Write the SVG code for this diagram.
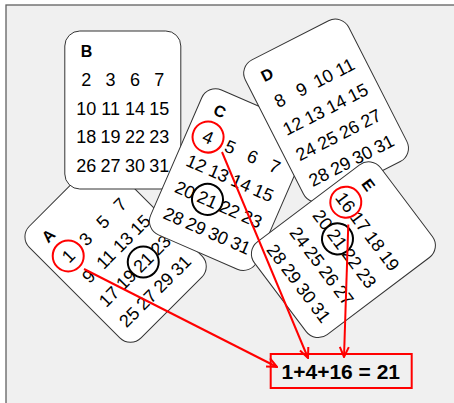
<svg xmlns="http://www.w3.org/2000/svg" width="454" height="403" viewBox="0 0 454 403">
  <style>
    .card { fill: #ffffff; stroke: #333333; stroke-width: 1; }
    .lbl { font-family: "Liberation Sans", Arial, sans-serif; font-weight: bold; font-size: 16px; fill: #000; }
    .num { font-family: "Liberation Sans", Arial, sans-serif; font-size: 18px; fill: #000; text-anchor: middle; }
    .ring { fill: none; stroke: #000; stroke-width: 2; }
    .ring-red { fill: none; stroke: #ff0000; stroke-width: 2; }
    .arrow { fill: none; stroke: #ff0000; stroke-width: 2; }
    .sum { font-family: "Liberation Sans", Arial, sans-serif; font-weight: bold; font-size: 21px; fill: #000; text-anchor: middle; }
  </style>
  <defs>
    <rect id="cardShape" x="-58" y="-79" width="116" height="158" rx="15" ry="15"/>
    <marker id="head" viewBox="0 0 12 12" refX="11" refY="6" markerWidth="12" markerHeight="12" markerUnits="userSpaceOnUse" orient="auto">
      <path d="M1,1.5 L11,6 L1,10.5" fill="none" stroke="#ff0000" stroke-width="2"/>
    </marker>
  </defs>

  <!-- page frame -->
  <rect x="0" y="0" width="454" height="403" fill="#ffffff"/>
  <rect x="6" y="5" width="460" height="410" fill="#f0f0f0" stroke="#606060" stroke-width="1.3"/>

  <!-- card A -->
  <g id="cardA" transform="translate(115.6,251.7) rotate(-45)">
    <use href="#cardShape" class="card"/>
    <text class="lbl" x="-42" y="-53.3">A</text>
    <text class="num" y="-24"><tspan x="-36.5">1</tspan><tspan x="-12.2">3</tspan><tspan x="12.2">5</tspan><tspan x="36.5">7</tspan></text>
    <text class="num" y="4.7"><tspan x="-36.5">9</tspan><tspan x="-12.2">11</tspan><tspan x="12.2">13</tspan><tspan x="36.5">15</tspan></text>
    <text class="num" y="33.4"><tspan x="-36.5">17</tspan><tspan x="-12.2">19</tspan><tspan x="12.2">21</tspan><tspan x="36.5">23</tspan></text>
    <text class="num" y="62.1"><tspan x="-36.5">25</tspan><tspan x="-12.2">27</tspan><tspan x="12.2">29</tspan><tspan x="36.5">31</tspan></text>
    <circle class="ring-red" cx="-36.5" cy="-30.5" r="15.5"/>
    <circle class="ring" cx="12.2" cy="26.9" r="15.5"/>
  </g>

  <!-- card B -->
  <g id="cardB" transform="translate(122.8,110)">
    <use href="#cardShape" class="card"/>
    <text class="lbl" x="-42" y="-53.3">B</text>
    <text class="num" y="-24"><tspan x="-36.5">2</tspan><tspan x="-12.2">3</tspan><tspan x="12.2">6</tspan><tspan x="36.5">7</tspan></text>
    <text class="num" y="4.7"><tspan x="-36.5">10</tspan><tspan x="-12.2">11</tspan><tspan x="12.2">14</tspan><tspan x="36.5">15</tspan></text>
    <text class="num" y="33.4"><tspan x="-36.5">18</tspan><tspan x="-12.2">19</tspan><tspan x="12.2">22</tspan><tspan x="36.5">23</tspan></text>
    <text class="num" y="62.1"><tspan x="-36.5">26</tspan><tspan x="-12.2">27</tspan><tspan x="12.2">30</tspan><tspan x="36.5">31</tspan></text>
  </g>

  <!-- card C -->
  <g id="cardC" transform="translate(229.4,179.6) rotate(23.5)">
    <use href="#cardShape" class="card"/>
    <text class="lbl" x="-42" y="-53.3">C</text>
    <text class="num" y="-24"><tspan x="-36.5">4</tspan><tspan x="-12.2">5</tspan><tspan x="12.2">6</tspan><tspan x="36.5">7</tspan></text>
    <text class="num" y="4.7"><tspan x="-36.5">12</tspan><tspan x="-12.2">13</tspan><tspan x="12.2">14</tspan><tspan x="36.5">15</tspan></text>
    <text class="num" y="33.4"><tspan x="-36.5">20</tspan><tspan x="-12.2">21</tspan><tspan x="12.2">22</tspan><tspan x="36.5">23</tspan></text>
    <text class="num" y="62.1"><tspan x="-36.5">28</tspan><tspan x="-12.2">29</tspan><tspan x="12.2">30</tspan><tspan x="36.5">31</tspan></text>
    <circle class="ring-red" cx="-36.5" cy="-30.5" r="15.5"/>
    <circle class="ring" cx="-12.2" cy="26.9" r="15.5"/>
  </g>

  <!-- card D -->
  <g id="cardD" transform="translate(326.1,110.7) rotate(-27)">
    <use href="#cardShape" class="card"/>
    <text class="lbl" x="-42" y="-53.3">D</text>
    <text class="num" y="-24"><tspan x="-36.5">8</tspan><tspan x="-12.2">9</tspan><tspan x="12.2">10</tspan><tspan x="36.5">11</tspan></text>
    <text class="num" y="4.7"><tspan x="-36.5">12</tspan><tspan x="-12.2">13</tspan><tspan x="12.2">14</tspan><tspan x="36.5">15</tspan></text>
    <text class="num" y="33.4"><tspan x="-36.5">24</tspan><tspan x="-12.2">25</tspan><tspan x="12.2">26</tspan><tspan x="36.5">27</tspan></text>
    <text class="num" y="62.1"><tspan x="-36.5">28</tspan><tspan x="-12.2">29</tspan><tspan x="12.2">30</tspan><tspan x="36.5">31</tspan></text>
  </g>

  <!-- card E -->
  <g id="cardE" transform="translate(343.4,249.7) rotate(53)">
    <use href="#cardShape" class="card"/>
    <text class="lbl" x="-42" y="-53.3">E</text>
    <text class="num" y="-24"><tspan x="-36.5">16</tspan><tspan x="-12.2">17</tspan><tspan x="12.2">18</tspan><tspan x="36.5">19</tspan></text>
    <text class="num" y="4.7"><tspan x="-36.5">20</tspan><tspan x="-12.2">21</tspan><tspan x="12.2">22</tspan><tspan x="36.5">23</tspan></text>
    <text class="num" y="33.4"><tspan x="-36.5">24</tspan><tspan x="-12.2">25</tspan><tspan x="12.2">26</tspan><tspan x="36.5">27</tspan></text>
    <text class="num" y="62.1"><tspan x="-36.5">28</tspan><tspan x="-12.2">29</tspan><tspan x="12.2">30</tspan><tspan x="36.5">31</tspan></text>
    <circle class="ring-red" cx="-36.5" cy="-30.5" r="15.5"/>
    <circle class="ring" cx="-12.2" cy="-1.8" r="15.5"/>
  </g>

  <!-- result box -->
  <g id="result">
    <rect x="270.7" y="354" width="141" height="34" fill="none" stroke="#ff0000" stroke-width="2"/>
    <text class="sum" x="340.8" y="379">1+4+16 = 21</text>
  </g>

  <!-- connectors -->
  <g id="connectors">
    <line class="arrow" x1="84" y1="269" x2="277" y2="367" marker-end="url(#head)"/>
    <line class="arrow" x1="222" y1="152" x2="308" y2="358" marker-end="url(#head)"/>
    <line class="arrow" x1="348.3" y1="224.5" x2="344" y2="357" marker-end="url(#head)"/>
  </g>
</svg>
